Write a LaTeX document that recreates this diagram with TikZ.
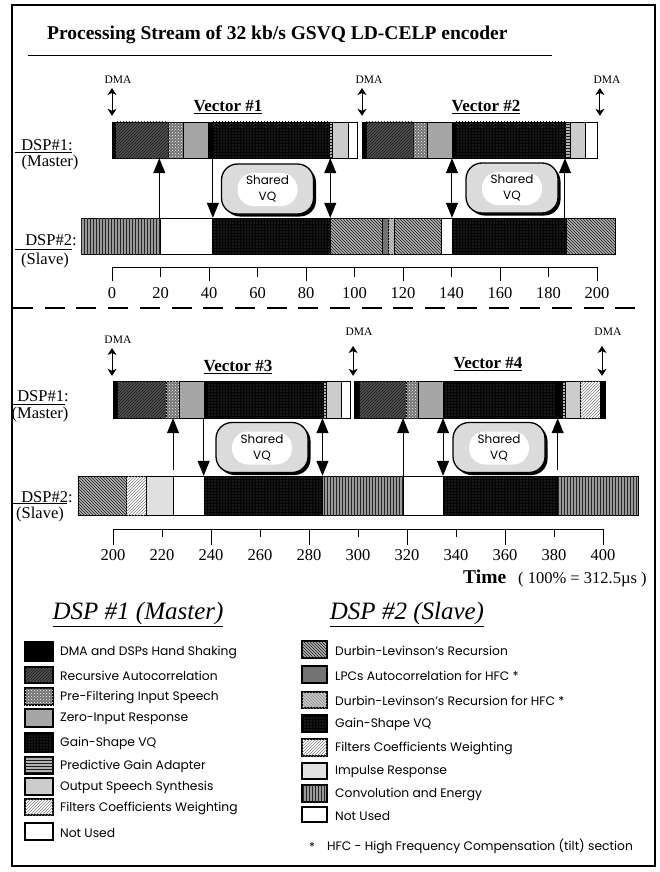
\documentclass[tikz,border=0pt]{standalone}
\usepackage{fontspec}
\setmainfont{Liberation Serif}
\newfontfamily\vqsans{Poppins}
\usetikzlibrary{arrows.meta,patterns,shadows,fit}

\tikzset{
  seg/.style={draw=black, line width=0.6pt},
  legbox/.style={draw=black, line width=1.2pt},
  handshake/.style={fill=black},
  recauto/.style={fill=black!68, postaction={pattern=north east lines, pattern color=black!90}},
  prefilt/.style={fill=black!55, postaction={pattern=crosshatch dots, pattern color=white}},
  zir/.style={fill=black!35},
  gsvq/.style={fill=black!90, postaction={pattern=grid, pattern color=black}},
  pga/.style={fill=black!30, postaction={pattern=horizontal lines, pattern color=black!90}},
  synth/.style={fill=black!20},
  fcw/.style={fill=white, postaction={pattern=north east lines, pattern color=black!50}},
  unused/.style={fill=white},
  durbin/.style={fill=black!30, postaction={pattern=north west lines, pattern color=black!90}},
  lpcauto/.style={fill=black!55},
  durbinhfc/.style={fill=black!22, postaction={pattern=north west lines, pattern color=black!45}},
  impulse/.style={fill=black!12},
  convener/.style={fill=black!40, postaction={pattern=vertical lines, pattern color=black!85}},
  sync/.style={-{Triangle[width=12pt,length=15pt]}, line width=1pt},
  duplex/.style={{Triangle[width=12pt,length=15pt]}-{Triangle[width=12pt,length=15pt]}, line width=1pt},
  dma/.style={{Stealth[width=9pt,length=7pt,inset=2pt]}-{Stealth[width=9pt,length=7pt,inset=2pt]}, line width=0.9pt},
  axisline/.style={line width=1pt},
  sharedvq/.style={draw, line width=1.3pt, rounded corners=16pt, fill=black!14,
    minimum width=92pt, minimum height=50pt, align=center,
    font=\vqsans\fontsize{12}{16}\selectfont,
    drop shadow={shadow xshift=2.5pt, shadow yshift=-2.5pt, fill=black, opacity=1},
    path picture={\fill[white] ([xshift=-30pt,yshift=-17pt]path picture bounding box.center)
      rectangle ([xshift=30pt,yshift=16pt]path picture bounding box.center);}},
  titletext/.style={font=\fontsize{19.5}{22}\selectfont\bfseries, inner sep=0pt},
  vectext/.style={font=\fontsize{17}{20}\selectfont\bfseries, inner sep=0pt},
  dspname/.style={font=\fontsize{16.5}{19}\selectfont, inner sep=0pt},
  dmatext/.style={font=\fontsize{11.5}{13}\selectfont, inner sep=0pt},
  ticklabel/.style={font=\fontsize{16.5}{19}\selectfont, inner sep=0pt},
  legendhead/.style={font=\fontsize{25}{28}\selectfont\itshape, inner sep=0pt},
  legendtext/.style={font=\vqsans\fontsize{12.3}{14}\selectfont, anchor=west, inner sep=0pt},
}

\begin{document}
\begin{tikzpicture}[x=1pt, y=-1pt]
  \useasboundingbox (0,0) rectangle (660,872);
  \draw[line width=1.3pt] (12,5) rectangle (655,866);

  % heading
  \node[titletext, anchor=base west] (title) at (47,40) {Processing Stream of 32 kb/s GSVQ LD-CELP encoder};
  \draw[line width=1pt] (28,56) -- (552,56);
  \draw[dash pattern=on 20pt off 11.7pt, line width=2pt] (13,308) -- (636,308);

  % row names
  \node[dspname] (dspMA) at (47,145) {DSP\#1:};
  \draw (15,152) -- (72,152);
  \node[dspname] (roleMA) at (50,163) {(Master)};
  \node[dspname] (dspSA) at (51,240) {DSP\#2:};
  \draw (15,249) -- (72,249);
  \node[dspname] (roleSA) at (45,261) {(Slave)};
  \node[dspname] (dspMB) at (43,396) {DSP\#1:};
  \draw (12,404) -- (65,404);
  \node[dspname] (roleMB) at (40,415) {(Master)};
  \node[dspname] (dspSB) at (47,497) {DSP\#2:};
  \draw (12,503) -- (67,503);
  \node[dspname] (roleSB) at (40,515) {(Slave)};

  \node[vectext] (vec1) at (228,107) {\underline{Vector \#1}};
  \node[vectext] (vec2) at (486,107) {\underline{Vector \#2}};
  \node[vectext] (vec3) at (238,367) {\underline{Vector \#3}};
  \node[vectext] (vec4) at (488,364) {\underline{Vector \#4}};

  \node[sharedvq] (vqA1) at (267.5,189) {Shared\\VQ};
  \node[sharedvq] (vqA2) at (512,188) {Shared\\VQ};
  \node[sharedvq] (vqB1) at (262,447.5) {Shared\\VQ};
  \node[sharedvq] (vqB2) at (499,447.5) {Shared\\VQ};

  % vectors 1 and 2, time 0..200
  \begin{scope}[shift={(112,0)}, x=2.425pt]
    \foreach \a/\b/\s in {0/1.2/handshake, 1.2/23.1/recauto, 23.1/29.3/prefilt, 29.3/39.6/zir,
        39.6/41.6/handshake, 41.6/89.5/gsvq, 89.5/91/pga, 91/97.3/synth, 97.3/101/unused,
        103.1/104.7/handshake, 104.7/124.1/recauto, 124.1/129.9/prefilt, 129.9/140.2/zir,
        140.2/141.5/handshake, 141.5/186.8/gsvq, 186.8/188.9/pga, 188.9/195/synth, 195/200/unused}
      \draw[seg,\s] (\a,122) rectangle (\b,158);
    \foreach \a/\b/\s in {-12.8/19.8/convener, 19.8/41.2/unused, 41.2/89.9/gsvq, 89.9/111.3/durbin,
        111.3/113.8/lpcauto, 113.8/116.3/durbinhfc, 116.3/135.7/durbin, 135.7/140.2/unused,
        140.2/187.2/gsvq, 187.2/207.4/durbin}
      \draw[seg,\s] (\a,218) rectangle (\b,254);
    \node[fit={(0,122) (200,158)}, inner sep=0pt] (mA) {};
    \node[fit={(-12.8,218) (207.4,254)}, inner sep=0pt] (sA) {};

    \foreach \lx/\ax [count=\i] in {2.5/0, 106/103.1, 204.1/201.2} {
      \node[dmatext] (dmaA\i) at (\lx,80) {DMA};
      \draw[dma, shorten <=4pt, shorten >=6pt] (dmaA\i.south -| \ax,0) -- (mA.north -| \ax,0);
    }

    \draw[sync] (sA.north -| 19.5,0) -- (mA.south -| 19.5,0);
    \draw[sync] (mA.south -| 41.6,0) -- (sA.north -| 41.6,0);
    \draw[duplex] (mA.south -| 90,0) -- (sA.north -| 90,0);
    \draw[duplex] (mA.south -| 140.2,0) -- (sA.north -| 140.2,0);
    \draw[sync] (sA.north -| 186.8,0) -- (mA.south -| 186.8,0);

    \draw[axisline] (0,267) -- (200,267);
    \foreach \t in {0,40,...,200} \draw[axisline] (\t,267) -- (\t,281);
    \foreach \t in {20,60,...,180} \draw[axisline] (\t,267) -- (\t,277);
    \foreach \t in {0,20,...,200} \node[ticklabel] (tickA\t) at (\t,293) {\t};
  \end{scope}

  % vectors 3 and 4, time 200..400
  \begin{scope}[shift={(-377,0)}, x=2.45pt]
    \foreach \a/\b/\s in {200/201.6/handshake, 201.6/221.6/recauto, 221.6/226.9/prefilt, 226.9/237.1/zir,
        237.1/237.9/handshake, 237.9/285.7/gsvq, 285.7/287/pga, 287/293.1/synth, 293.1/296.7/unused,
        298.4/300.4/handshake, 300.4/319.6/recauto, 319.6/324.5/prefilt, 324.5/334.7/zir,
        334.7/380.8/gsvq, 380.8/383.3/handshake, 383.3/384.5/pga, 384.5/390.6/synth,
        390.6/398.8/fcw, 398.8/400.8/handshake}
      \draw[seg,\s] (\a,381) rectangle (\b,418);
    \foreach \a/\b/\s in {185.7/205.3/durbin, 205.3/213.5/fcw, 213.5/224.5/impulse, 224.5/237.1/unused,
        237.1/285.3/gsvq, 285.3/318.4/convener, 318.4/334.7/unused, 334.7/381.2/gsvq, 381.2/414.3/convener}
      \draw[seg,\s] (\a,476) rectangle (\b,515);
    \node[fit={(200,381) (400.8,418)}, inner sep=0pt] (mB) {};
    \node[fit={(185.7,476) (414.3,515)}, inner sep=0pt] (sB) {};

    \foreach \lx/\ly/\ax/\gap [count=\i] in {202/340/199.6/4pt, 300.4/332/298/10pt, 402/332/399.6/10pt} {
      \node[dmatext] (dmaB\i) at (\lx,\ly) {DMA};
      \draw[dma, shorten <=\gap, shorten >=5pt] (dmaB\i.south -| \ax,0) -- (mB.north -| \ax,0);
    }

    \draw[sync, shorten <=6pt] (sB.north -| 224.5,0) -- (mB.south -| 224.5,0);
    \draw[sync] (mB.south -| 237,0) -- (sB.north -| 237,0);
    \draw[duplex] (mB.south -| 285.5,0) -- (sB.north -| 285.5,0);
    \draw[sync] (sB.north -| 318.4,0) -- (mB.south -| 318.4,0);
    \draw[duplex] (mB.south -| 334.7,0) -- (sB.north -| 334.7,0);
    \draw[sync, shorten <=6pt] (sB.north -| 381.5,0) -- (mB.south -| 381.5,0);

    \draw[axisline] (200,529) -- (400,529);
    \foreach \t in {200,240,...,400} \draw[axisline] (\t,529) -- (\t,545);
    \foreach \t in {220,260,...,380} \draw[axisline] (\t,529) -- (\t,537);
    \foreach \t in {200,220,...,400} \node[ticklabel] (tickB\t) at (\t,555) {\t};
  \end{scope}

  \node[font=\fontsize{19.5}{22}\selectfont\bfseries, inner sep=0pt, anchor=base west] (timeword) at (463,583) {Time};
  \node[font=\fontsize{16.5}{19}\selectfont, inner sep=0pt, anchor=base west] (timescale) at (518,583) {( 100\% = 312.5µs )};

  % legend
  \node[legendhead] (legM) at (138,614) {\underline{DSP \#1 (Master)}};
  \node[legendhead] (legS) at (407,614) {\underline{DSP \#2 (Slave)}};

  \foreach \ya/\yb/\s/\txt [count=\i] in {642/661/handshake/DMA and DSPs Hand Shaking,
      667/683/recauto/Recursive Autocorrelation, 688/705/prefilt/Pre-Filtering Input Speech,
      709/727/zir/Zero-Input Response, 733/752/gsvq/Gain-Shape VQ,
      757/774/pga/Predictive Gain Adapter, 778/795/synth/Output Speech Synthesis,
      799/815/fcw/Filters Coefficients Weighting, 823/840/unused/Not Used} {
    \draw[legbox,\s] (25,\ya) rectangle (53,\yb);
    \node[legendtext] (legM\i) at (60,{(\ya+\yb)/2+1}) {\txt};
  }
  \foreach \ya/\yb/\s/\txt [count=\i] in {641/658/durbin/Durbin-Levinson’s Recursion,
      666/683/lpcauto/LPCs Autocorrelation for HFC *, 692/708/durbinhfc/Durbin-Levinson’s Recursion for HFC *,
      715/732/gsvq/Gain-Shape VQ, 739/756/fcw/Filters Coefficients Weighting,
      763/779/impulse/Impulse Response, 785/802/convener/Convolution and Energy,
      807/822/unused/Not Used} {
    \draw[legbox,\s] (302,\ya) rectangle (327,\yb);
    \node[legendtext] (legS\i) at (335,{(\ya+\yb)/2+1}) {\txt};
  }
  \node[legendtext] (hfcstar) at (309,847) {*};
  \node[legendtext] (hfcnote) at (327,846) {HFC - High Frequency Compensation (tilt) section};
\end{tikzpicture}
\end{document}
